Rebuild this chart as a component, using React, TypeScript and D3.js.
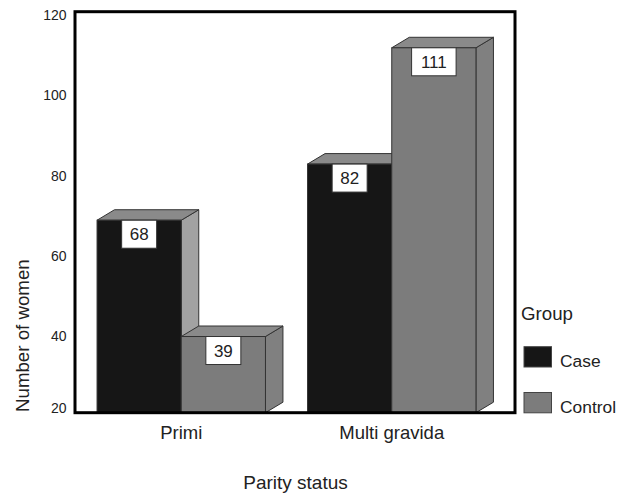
import React from "react";
import * as d3 from "d3";

const categories = ["Primi", "Multi gravida"];
const groups = ["Case", "Control"];
const caseValues = [68, 82];
const controlValues = [39, 111];
const yTicks = [20, 40, 60, 80, 100, 120];

const W = 617;
const H = 494;
const FONT = "'Liberation Sans', Arial, Helvetica, sans-serif";
const colors: Record<string, { front: string; top: string; side: string }> = {
  Case: { front: "#161616", top: "#8a8a8a", side: "#a2a2a2" },
  Control: { front: "#7c7c7c", top: "#8a8a8a", side: "#808080" },
};

export default function App() {
  const frame = { left: 75, right: 515, top: 11.7, bottom: 412.7 };
  const y = d3.scaleLinear().domain([20, 120]).range([frame.bottom, frame.top]);
  const x0 = d3
    .scaleBand<string>()
    .domain(categories)
    .range([76, 497])
    .paddingInner(0.2)
    .paddingOuter(0.1);
  const x1 = d3.scaleBand<string>().domain(groups).range([0, x0.bandwidth()]);
  const dx = 17.5;
  const dy = 10.5;
  const valuesFor = (g: string) => (g === "Case" ? caseValues : controlValues);

  const bars: React.ReactNode[] = [];
  categories.forEach((c, ci) => {
    groups.forEach((g) => {
      const v = valuesFor(g)[ci];
      const bx = (x0(c) ?? 0) + (x1(g) ?? 0);
      const bw = x1.bandwidth();
      const yt = y(v);
      const yb = frame.bottom;
      const col = colors[g];
      const top = `M${bx},${yt}L${bx + dx},${yt - dy}L${bx + bw + dx},${yt - dy}L${bx + bw},${yt}Z`;
      const side = `M${bx + bw},${yt}L${bx + bw + dx},${yt - dy}L${bx + bw + dx},${yb - dy}L${bx + bw},${yb}Z`;
      const label = String(v);
      const boxW = label.length * 9.5 + 16;
      const boxH = 28;
      const cx = bx + bw / 2;
      bars.push(
        <g key={c + g}>
          <path d={side} fill={col.side} stroke="#333" strokeWidth={1} />
          <path d={top} fill={col.top} stroke="#333" strokeWidth={1} />
          <rect x={bx} y={yt} width={bw} height={yb - yt} fill={col.front} stroke="#333" strokeWidth={1} />
          <rect x={cx - boxW / 2} y={yt} width={boxW} height={boxH} fill="#fff" stroke="#333" strokeWidth={1} />
          <text x={cx} y={yt + boxH / 2 + 6} textAnchor="middle" fontSize={17} fill="#222" fontFamily={FONT}>
            {label}
          </text>
        </g>
      );
    });
  });

  return (
    <svg width={W} height={H} style={{ position: "absolute", left: 0, top: 0, background: "#fff" }}>
      <rect x={0} y={0} width={W} height={H} fill="#fff" />
      {bars}
      <rect
        x={frame.left}
        y={frame.top}
        width={frame.right - frame.left}
        height={frame.bottom - frame.top}
        fill="none"
        stroke="#000"
        strokeWidth={3}
      />
      {yTicks.map((t) => (
        <text
          key={t}
          x={66.5}
          y={Math.min(y(t) + 3.5, frame.bottom - 5)}
          dy="0.35em"
          textAnchor="end"
          fontSize={14}
          fill="#222"
          fontFamily={FONT}
        >
          {t}
        </text>
      ))}
      {categories.map((c) => (
        <text
          key={c}
          x={(x0(c) ?? 0) + x0.bandwidth() / 2}
          y={439}
          textAnchor="middle"
          fontSize={18.5}
          fill="#222"
          fontFamily={FONT}
        >
          {c}
        </text>
      ))}
      <text x={295.5} y={489} textAnchor="middle" fontSize={19} fill="#222" fontFamily={FONT}>
        Parity status
      </text>
      <text
        transform={`translate(29,412) rotate(-90)`}
        textAnchor="start"
        fontSize={18.7}
        fill="#222"
        fontFamily={FONT}
      >
        Number of women
      </text>
      <text x={521} y={319.5} fontSize={18.7} fill="#222" fontFamily={FONT}>
        Group
      </text>
      {groups.map((g, i) => (
        <g key={g} transform={`translate(524,${346.7 + i * 45.8})`}>
          <rect width={27.5} height={20.3} fill={colors[g].front} stroke="#444" strokeWidth={1} />
          <text x={36} y={20} fontSize={17.4} fill="#222" fontFamily={FONT}>
            {g}
          </text>
        </g>
      ))}
    </svg>
  );
}
